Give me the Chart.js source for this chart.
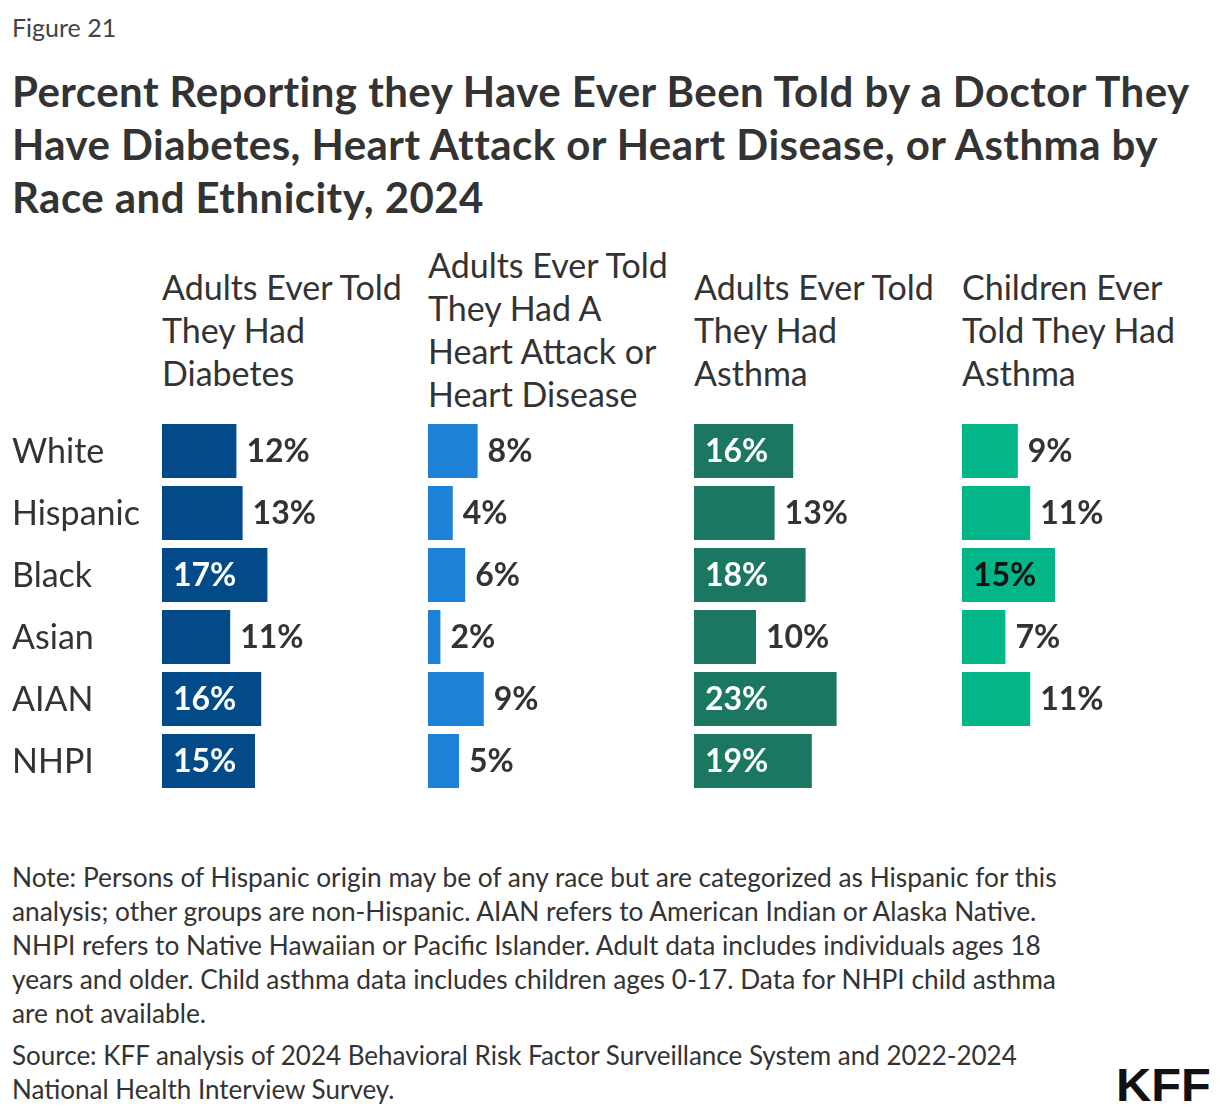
<!DOCTYPE html>
<html>
<head>
<meta charset="utf-8">
<script src="https://cdn.jsdelivr.net/npm/chart.js@4/dist/chart.umd.min.js"></script>
<style>
  html, body { margin: 0; padding: 0; background: #fff; }
  body { width: 1220px; height: 1116px; position: relative; overflow: hidden; font-family: Lato, "Noto Sans", sans-serif; color: #333; }
  .abs { position: absolute; white-space: nowrap; }
  #fig { left: 12px; top: 12px; font-size: 25px; line-height: 30px; color: #444; }
  #title { left: 12px; top: 65px; font-size: 42px; line-height: 53px; font-weight: 700; color: #333; letter-spacing: 0.45px; }
  .hdr { font-size: 34px; line-height: 43px; color: #333; display: flex; flex-direction: column; justify-content: center; height: 180px; top: 239px; }
  #note { left: 12px; top: 860px; font-size: 26.3px; line-height: 34px; color: #333; }
  #source { left: 12px; top: 1038px; font-size: 26px; line-height: 34px; color: #333; }
  #logo { left: 1116px; top: 1058px; font-size: 46px; line-height: 54px; font-weight: 900; color: #111; font-family: "Liberation Sans", Arial, sans-serif; letter-spacing: 0px; transform: scaleX(1.06); transform-origin: left center; }
  canvas { position: absolute; }
</style>
</head>
<body>
<div id="fig" class="abs">Figure 21</div>
<div id="title" class="abs">Percent Reporting they Have Ever Been Told by a Doctor They<br>Have Diabetes, Heart Attack or Heart Disease, or Asthma by<br>Race and Ethnicity, 2024</div>

<div class="abs hdr" style="left:162px"><div>Adults Ever Told</div><div>They Had</div><div>Diabetes</div></div>
<div class="abs hdr" style="left:428px"><div>Adults Ever Told</div><div>They Had A</div><div>Heart Attack or</div><div>Heart Disease</div></div>
<div class="abs hdr" style="left:694px"><div>Adults Ever Told</div><div>They Had</div><div>Asthma</div></div>
<div class="abs hdr" style="left:962px"><div>Children Ever</div><div>Told They Had</div><div>Asthma</div></div>

<canvas id="c1" style="left:0px;top:420px"></canvas>
<canvas id="c2" style="left:428px;top:420px"></canvas>
<canvas id="c3" style="left:694px;top:420px"></canvas>
<canvas id="c4" style="left:962px;top:420px"></canvas>

<div id="note" class="abs">Note: Persons of Hispanic origin may be of any race but are categorized as Hispanic for this<br>analysis; other groups are non-Hispanic. AIAN refers to American Indian or Alaska Native.<br>NHPI refers to Native Hawaiian or Pacific Islander. Adult data includes individuals ages 18<br>years and older. Child asthma data includes children ages 0-17. Data for NHPI child asthma<br>are not available.</div>
<div id="source" class="abs">Source: KFF analysis of 2024 Behavioral Risk Factor Surveillance System and 2022-2024<br>National Health Interview Survey.</div>
<div id="logo" class="abs">KFF</div>

<script>
// ---- data ----
const groups = ['White', 'Hispanic', 'Black', 'Asian', 'AIAN', 'NHPI'];
const diabetes = [12, 13, 17, 11, 16, 15];
const heartDisease = [8, 4, 6, 2, 9, 5];
const adultAsthma = [16, 13, 18, 10, 23, 19];
const childAsthma = [9, 11, 15, 7, 11, null];
const axisMax = 40;

const FONT = 'Lato, "Noto Sans", sans-serif';
const valueLabels = {
  id: 'valueLabels',
  afterDatasetsDraw(chart, args, opts) {
    const ctx = chart.ctx;
    const meta = chart.getDatasetMeta(0);
    const data = chart.data.datasets[0].data;
    const yScale = chart.scales.y;
    ctx.save();
    ctx.textBaseline = 'middle';
    ctx.textAlign = 'left';
    if (opts.showCategories) {
      ctx.font = '400 34px ' + FONT;
      ctx.fillStyle = '#333';
      chart.data.labels.forEach((lab, i) => {
        ctx.fillText(lab, 12, yScale.getPixelForValue(i) + 1);
      });
    }
    ctx.font = '700 32px ' + FONT;
    meta.data.forEach((bar, i) => {
      const v = data[i];
      if (v === null || v === undefined) return;
      const txt = v + '%';
      if (v >= 15) {
        ctx.fillStyle = opts.insideColor;
        ctx.fillText(txt, bar.base + 11, bar.y + 1);
      } else {
        ctx.fillStyle = '#333';
        ctx.fillText(txt, bar.x + 10, bar.y + 1);
      }
    });
    ctx.restore();
  }
};

function makeChart(id, values, color, insideColor, showCats, width) {
  const cv = document.getElementById(id);
  cv.style.width = width + 'px';
  cv.style.height = '372px';
  cv.width = width; cv.height = 372;
  const left = showCats ? 162 : 0;
  return new Chart(cv, {
    type: 'bar',
    data: {
      labels: groups,
      datasets: [{ data: values, backgroundColor: color, borderWidth: 0,
                   barPercentage: 54 / 62, categoryPercentage: 1 }]
    },
    options: {
      indexAxis: 'y',
      responsive: false,
      animation: false,
      devicePixelRatio: 1,
      layout: { padding: { left: left, right: width - left - 248, top: 0, bottom: 0 } },
      scales: {
        x: { display: false, min: 0, max: axisMax },
        y: { display: false }
      },
      plugins: {
        legend: { display: false },
        tooltip: { enabled: false },
        valueLabels: { insideColor: insideColor, showCategories: showCats }
      }
    },
    plugins: [valueLabels]
  });
}

makeChart('c1', diabetes, '#024b88', '#ffffff', true, 428);
makeChart('c2', heartDisease, '#1d82d6', '#ffffff', false, 266);
makeChart('c3', adultAsthma, '#1b7762', '#ffffff', false, 268);
makeChart('c4', childAsthma, '#03b68a', '#111111', false, 258);
</script>
</body>
</html>
